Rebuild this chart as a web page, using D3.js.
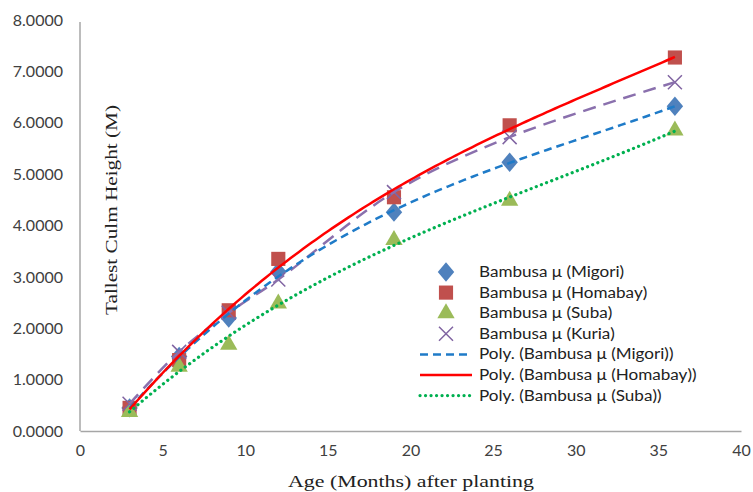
<!DOCTYPE html>
<html>
<head>
<meta charset="utf-8">
<script src="https://cdn.jsdelivr.net/npm/d3@7"></script>
<style>
  body { margin: 0; background: #fff; }
  svg { display: block; }
</style>
</head>
<body>
<div id="chart"></div>
<script>
// data
var ages = [3, 6, 9, 12, 19, 26, 36];
var migori  = [0.45, 1.45, 2.20, 3.10, 4.26, 5.23, 6.32];
var homabay = [0.45, 1.38, 2.35, 3.35, 4.55, 5.95, 7.27];
var suba    = [0.37, 1.25, 1.68, 2.48, 3.72, 4.48, 5.85];
var kuria   = [0.53, 1.54, 2.30, 2.95, 4.65, 5.72, 6.79];
var xTicks = [0, 5, 10, 15, 20, 25, 30, 35, 40];
var yTicks = [0, 1, 2, 3, 4, 5, 6, 7, 8];

var W = 753, H = 492;
var margin = {top: 20, right: 12, bottom: 61, left: 80};

var svg = d3.select("#chart").append("svg")
  .attr("width", W).attr("height", H);

var x = d3.scaleLinear().domain([0, 40]).range([margin.left, W - margin.right]);
var y = d3.scaleLinear().domain([0, 8]).range([H - margin.bottom, margin.top]);

// axes
var xAxis = svg.append("g")
  .attr("transform", "translate(0," + y(0) + ")")
  .call(d3.axisBottom(x).tickValues(xTicks).tickSize(0).tickPadding(14).tickFormat(d3.format("d")));
var yAxis = svg.append("g")
  .attr("transform", "translate(" + x(0) + ",0)")
  .call(d3.axisLeft(y).tickValues(yTicks).tickSize(0).tickPadding(17).tickFormat(d3.format(".4f")));

[xAxis, yAxis].forEach(function(a) {
  a.select(".domain").attr("stroke", "#a6a6a6").attr("stroke-width", 1.5);
  a.selectAll("text").attr("font-family", "Lato, 'Open Sans', sans-serif")
    .attr("font-size", 16).attr("fill", "#404040");
});
// the y axis line stops a bit below the top tick
yAxis.select(".domain").attr("d", "M0," + (y(8) + 2) + "V" + y(0));

// axis titles
svg.append("text")
  .attr("x", 411).attr("y", 487)
  .attr("text-anchor", "middle")
  .attr("font-family", "'Liberation Serif', 'Times New Roman', serif")
  .attr("font-size", 17).attr("fill", "#222")
  .attr("textLength", 246).attr("lengthAdjust", "spacingAndGlyphs")
  .text("Age (Months) after planting");
svg.append("text")
  .attr("transform", "translate(117,210) rotate(-90)")
  .attr("text-anchor", "middle")
  .attr("font-family", "'Liberation Serif', 'Times New Roman', serif")
  .attr("font-size", 17).attr("fill", "#222")
  .attr("textLength", 210).attr("lengthAdjust", "spacingAndGlyphs")
  .text("Tallest Culm Height (M)");

// least squares polynomial, like the spreadsheet's poly trendline
function polyFit(xs, ys, order) {
  var n = order + 1, m = [];
  for (var r = 0; r < n; r++) {
    m.push([]);
    for (var c = 0; c <= n; c++) m[r].push(0);
  }
  xs.forEach(function(xv, i) {
    for (var r = 0; r < n; r++) {
      for (var c = 0; c < n; c++) m[r][c] += Math.pow(xv, r + c);
      m[r][n] += ys[i] * Math.pow(xv, r);
    }
  });
  for (var c = 0; c < n; c++) {
    for (var r = c + 1; r < n; r++) {
      var f = m[r][c] / m[c][c];
      for (var k = c; k <= n; k++) m[r][k] -= f * m[c][k];
    }
  }
  var co = [];
  for (var r = n - 1; r >= 0; r--) {
    var v = m[r][n];
    for (var k = r + 1; k < n; k++) v -= m[r][k] * co[k];
    co[r] = v / m[r][r];
  }
  return function(xv) {
    var s = 0;
    for (var k = 0; k < n; k++) s += co[k] * Math.pow(xv, k);
    return s;
  };
}

function trendPoints(vals, order) {
  var f = polyFit(ages, vals, order);
  var pts = [];
  for (var a = ages[0]; a <= ages[ages.length - 1] + 0.001; a += 0.25) pts.push([a, f(a)]);
  return pts;
}

var line = d3.line().x(function(d) { return x(d[0]); }).y(function(d) { return y(d[1]); });
var smooth = d3.line().curve(d3.curveCatmullRom.alpha(0.5))
  .x(function(d) { return x(d[0]); }).y(function(d) { return y(d[1]); });

function zip(vals) { return ages.map(function(a, i) { return [a, vals[i]]; }); }

var series = [
  {name: "Migori", vals: migori, color: "#4f81bd", shape: d3.symbolDiamond, size: 150},
  {name: "Homabay", vals: homabay, color: "#c0504d", shape: d3.symbolSquare, size: 200},
  {name: "Suba", vals: suba, color: "#9bbb59", shape: d3.symbolTriangle, size: 130},
  {name: "Kuria", vals: kuria, color: "#8064a2", shape: "x", size: 0}
];

function drawMarker(g, s, cx, cy) {
  if (s.shape === "x") {
    g.append("path")
      .attr("d", "M" + (cx - 7) + "," + (cy - 7) + "L" + (cx + 7) + "," + (cy + 7) +
                 "M" + (cx - 7) + "," + (cy + 7) + "L" + (cx + 7) + "," + (cy - 7))
      .attr("stroke", s.color).attr("stroke-width", 1.5).attr("fill", "none");
  } else {
    g.append("path")
      .attr("transform", "translate(" + cx + "," + cy + ")" + (s.shape === d3.symbolDiamond ? " scale(1.25,0.85)" : ""))
      .attr("d", d3.symbol().type(s.shape).size(s.size)())
      .attr("fill", s.color);
  }
}

var marks = svg.append("g");
series.forEach(function(s) {
  var g = marks.append("g");
  zip(s.vals).forEach(function(d) { drawMarker(g, s, x(d[0]), y(d[1])); });
});

// lines on top of markers
var lines = svg.append("g").attr("fill", "none");
lines.append("path").datum(zip(kuria)).attr("d", smooth)
  .attr("stroke", "#8a70ad").attr("stroke-width", 2.5).attr("stroke-dasharray", "13,8");
lines.append("path").datum(trendPoints(migori, 3)).attr("d", line)
  .attr("stroke", "#1f7bc8").attr("stroke-width", 2.5).attr("stroke-dasharray", "8,5");
lines.append("path").datum(trendPoints(homabay, 3)).attr("d", line)
  .attr("stroke", "#ff0000").attr("stroke-width", 2.5);
lines.append("path").datum(trendPoints(suba, 3)).attr("d", line)
  .attr("stroke", "#00b050").attr("stroke-width", 3.2).attr("stroke-linecap", "round")
  .attr("stroke-dasharray", "0.1,5.4");

// legend
var legendItems = [
  {label: "Bambusa \u03bc (Migori)", marker: series[0]},
  {label: "Bambusa \u03bc (Homabay)", marker: series[1]},
  {label: "Bambusa \u03bc (Suba)", marker: series[2]},
  {label: "Bambusa \u03bc (Kuria)", marker: series[3]},
  {label: "Poly. (Bambusa \u03bc (Migori))", stroke: "#1f7bc8", dash: "8,5", width: 2.5},
  {label: "Poly. (Bambusa \u03bc (Homabay))", stroke: "#ff0000", dash: null, width: 2.5},
  {label: "Poly. (Bambusa \u03bc (Suba))", stroke: "#00b050", dash: "0.1,5.4", width: 3.2, cap: "round"}
];
var legend = svg.append("g").attr("transform", "translate(420,272)");
legendItems.forEach(function(it, i) {
  var row = legend.append("g").attr("transform", "translate(0," + (i * 20.6) + ")");
  if (it.marker) {
    drawMarker(row, it.marker, 26, 0);
  } else {
    row.append("line").attr("x1", 0).attr("x2", 52).attr("y1", 0).attr("y2", 0)
      .attr("stroke", it.stroke).attr("stroke-width", it.width)
      .attr("stroke-dasharray", it.dash).attr("stroke-linecap", it.cap || "butt");
  }
  row.append("text").attr("transform", "translate(59,5) scale(1.14,1)")
    .attr("font-family", "Lato, 'Open Sans', sans-serif").attr("font-size", 15)
    .attr("fill", "#222").text(it.label);
});
</script>
</body>
</html>
